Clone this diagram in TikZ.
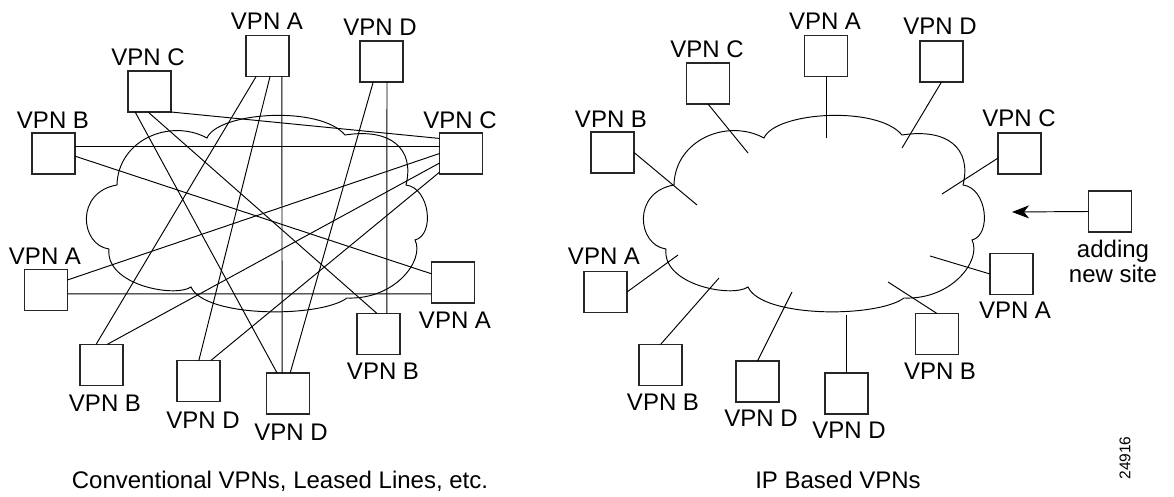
\documentclass[tikz,border=0pt]{standalone}
\usepackage{fontspec}
\setmainfont{Liberation Sans}
\usetikzlibrary{arrows.meta}

\tikzset{
  site/.style={draw=black!85, line width=1.1pt, minimum width=43pt,
    minimum height=41pt, inner sep=0pt, outer sep=0pt},
  tag/.style={font=\fontsize{24}{25}\selectfont, inner sep=0pt},
  link/.style={line width=0.95pt},
  vpncloud/.pic={
    \draw[line width=0.95pt]
      (109,249) .. controls (80,245) and (75,192) .. (117,185)
      .. controls (118,140) and (170,118) .. (207,138)
      .. controls (218,112) and (320,105) .. (345,135)
      .. controls (390,128) and (415,148) .. (406,185)
      .. controls (430,188) and (435,235) .. (415,240)
      .. controls (425,260) and (395,300) .. (347,298)
      .. controls (320,318) and (205,318) .. (191,287)
      .. controls (175,298) and (105,285) .. cycle;
  }
}

\begin{document}
\begin{tikzpicture}[x=1pt,y=-1pt]
\useasboundingbox (0,0) rectangle (1174,497);

% ---------- fully meshed leased lines ----------
\pic at (0,0) {vpncloud};

\node[site] (lb1) at (53.5,153.5) {};
\node[site] (lc1) at (149.5,91.5) {};
\node[site] (la1) at (267.5,56) {};
\node[site] (ld1) at (381.5,61.5) {};
\node[site] (lc2) at (461,153.5) {};
\node[site] (la3) at (46,290) {};
\node[site] (la2) at (453,282.5) {};
\node[site] (lb3) at (378.5,334) {};
\node[site] (lb2) at (101.5,365) {};
\node[site] (ld2) at (198.5,381) {};
\node[site] (ld3) at (288,393.5) {};

\node[tag] (lb1t) at (53,120) {VPN B};
\node[tag] (lc1t) at (148,57) {VPN C};
\node[tag] (la1t) at (267,21) {VPN A};
\node[tag] (ld1t) at (380,27) {VPN D};
\node[tag] (lc2t) at (460,120) {VPN C};
\node[tag] (la3t) at (45,256) {VPN A};
\node[tag] (la2t) at (455,320) {VPN A};
\node[tag] (lb3t) at (383,371) {VPN B};
\node[tag] (lb2t) at (105,403) {VPN B};
\node[tag] (ld2t) at (203,420) {VPN D};
\node[tag] (ld3t) at (291,432) {VPN D};

\draw[link] (lc1.south east) -- (lc2.145);
\draw[link] (lb1.17) -- (lc2.163);
\draw[link] (lb1.-7) -- (la2.158);
\draw[link] (lc1.-125) -- (ld3.118);
\draw[link] (lc1.-94) -- (lb3.94);
\draw[link] (la1.-119) -- (lb2.105);
\draw[link] (la1.-83) -- (ld2.89);
\draw[link] (la1.-55) -- (ld3.106);
\draw[link] (ld1.-112) -- (ld3.84);
\draw[link] (ld1.-75) -- (lb3.68);
\draw[link] (lc2.180) -- (la3.25);
\draw[link] (lc2.-156) -- (lb2.75);
\draw[link] (lc2.-139) -- (ld2.59);
\draw[link] (la3.-10) -- (la2.-152);

\node[tag, anchor=base] (lcap) at (280,488) {Conventional VPNs, Leased Lines, etc.};

% ---------- IP based VPN ----------
\pic at (557,0) {vpncloud};

\node[site] (rb1) at (612.5,152.5) {};
\node[site] (rc1) at (708,83.5) {};
\node[site] (ra1) at (826,56) {};
\node[site] (rd1) at (941.5,61.5) {};
\node[site] (rc2) at (1019.5,153.5) {};
\node[site] (rnew) at (1110,211.5) {};
\node[site] (ra3) at (605.5,292) {};
\node[site] (rb2) at (660.5,365) {};
\node[site] (rd2) at (757.5,381.5) {};
\node[site] (rd3) at (846.5,393.5) {};
\node[site] (rb3) at (937,334) {};
\node[site] (ra2) at (1011.5,274) {};

\node[tag] (rb1t) at (611,119) {VPN B};
\node[tag] (rc1t) at (707,49) {VPN C};
\node[tag] (ra1t) at (825,21) {VPN A};
\node[tag] (rd1t) at (940,26) {VPN D};
\node[tag] (rc2t) at (1019,118) {VPN C};
\node[tag] (ra3t) at (604,256) {VPN A};
\node[tag] (rb2t) at (663,402) {VPN B};
\node[tag] (rd2t) at (761,418) {VPN D};
\node[tag] (rd3t) at (849,430) {VPN D};
\node[tag] (rb3t) at (940,371) {VPN B};
\node[tag] (ra2t) at (1015,310) {VPN A};
\node[tag, align=center] (rnewt) at (1113,261) {adding\\new site};

\coordinate (eb1) at (697,205);
\coordinate (ec1) at (748,153);
\coordinate (ea1) at (826,138);
\coordinate (ed1) at (902,148);
\coordinate (ec2) at (942,194);
\coordinate (ea2) at (930,256);
\coordinate (ea3) at (678,255);
\coordinate (eb2) at (719,278);
\coordinate (ed2) at (792,292);
\coordinate (ed3) at (846.5,315);
\coordinate (eb3) at (888,282);
\coordinate (enew) at (1012,212);

\draw[link] (rb1.east) -- (eb1);
\draw[link] (rc1.south) -- (ec1);
\draw[link] (ra1.south) -- (ea1);
\draw[link] (rd1.south) -- (ed1);
\draw[link] (rc2.-168) -- (ec2);
\draw[link] (ra2.west) -- (ea2);
\draw[link] (ra3.east) -- (ea3);
\draw[link] (rb2.north) -- (eb2);
\draw[link] (rd2.north) -- (ed2);
\draw[link] (rd3.north) -- (ed3);
\draw[link] (rb3.north) -- (eb3);
\draw[link, -{Stealth[length=17pt,width=13pt,inset=5pt]}] (rnew.west) -- (enew);

\node[tag, anchor=base] (rcap) at (838,488) {IP Based VPNs};
\node[font=\fontsize{15.5}{17}\selectfont, inner sep=0pt, rotate=90] (figno) at (1125,458) {24916};
\end{tikzpicture}
\end{document}
